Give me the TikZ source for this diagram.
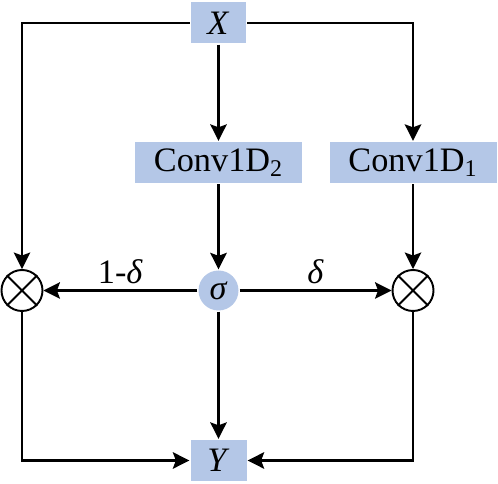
\documentclass[tikz,border=0pt]{standalone}
\usepackage{fontspec}
\setmainfont{Liberation Serif}
\usetikzlibrary{arrows.meta,positioning}
\definecolor{boxblue}{RGB}{180,199,231}

\begin{document}
\begin{tikzpicture}[>={Stealth[length=3.3mm,width=3.3mm,inset=0.6mm]}, line width=1.3pt,
  lbl/.style={font=\fontsize{19.5}{23}\selectfont},
  box/.style={fill=boxblue,minimum height=0.82cm,inner sep=0pt,lbl},
  mult/.style={circle,draw,minimum size=0.82cm,inner sep=0pt,line width=1.1pt}]
  \useasboundingbox (0,0) rectangle (9.96,9.68);

  \node[box,minimum width=1.1cm]  (x)  at (4.37,9.22) {\textit{X}};
  \node[box,minimum width=3.34cm] (c2) at (4.37,6.43) {Conv1D\textsubscript{2}};
  \node[box,minimum width=3.34cm] (c1) at (8.26,6.43) {Conv1D\textsubscript{1}};
  \node[circle,fill=boxblue,minimum size=0.8cm,inner sep=0pt,lbl] (s) at (4.37,3.87) {\textit{σ}};
  \node[mult] (ml) at (0.44,3.87) {};
  \node[mult] (mr) at (8.26,3.87) {};
  \node[box,minimum width=1.12cm] (y) at (4.37,0.47) {\textit{Y}};

  \foreach \m in {ml,mr}
    \draw[line width=1.1pt] (\m.north west) -- (\m.south east) (\m.south west) -- (\m.north east);

  \draw[->] (x) -- (c2);
  \draw[->] (x.east) -| (c1);
  \draw[->] (x.west) -| (ml);
  \draw[->] (c2) -- (s);
  \draw[->] (c1) -- (mr);
  \draw[->] (s) -- node[above,lbl]{1-\textit{δ}} (ml);
  \draw[->] (s) -- node[above,lbl]{\textit{δ}} (mr);
  \draw[->] (s) -- (y);
  \draw[->] (ml) |- (y);
  \draw[->] (mr) |- (y);
\end{tikzpicture}
\end{document}
